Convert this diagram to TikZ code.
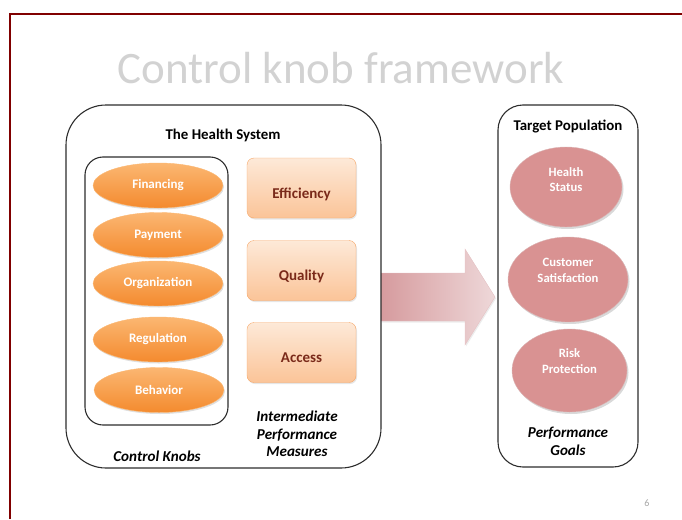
\documentclass[tikz,border=0pt]{standalone}
\usepackage{fontspec}
\setmainfont{Carlito}
\usetikzlibrary{calc, positioning, shapes.geometric, shadows}
\definecolor{framered}{RGB}{128,0,0}
\definecolor{titlegray}{RGB}{210,210,210}
\definecolor{boxline}{RGB}{45,45,45}
\definecolor{knoblight}{RGB}{251,183,114}
\definecolor{knobdark}{RGB}{244,138,46}
\definecolor{measurelight}{RGB}{253,233,216}
\definecolor{measuredark}{RGB}{251,196,152}
\definecolor{measureline}{RGB}{246,166,103}
\definecolor{measuretext}{RGB}{122,42,26}
\definecolor{goalpink}{RGB}{217,146,146}
\definecolor{arrowdark}{RGB}{214,155,158}
\definecolor{arrowlight}{RGB}{238,216,217}

\begin{document}
\begin{tikzpicture}[x=1pt, y=-1pt,
    sysbox/.style={draw=boxline, line width=1.1pt, rectangle},
    knob/.style={ellipse, minimum width=130pt, minimum height=45pt, inner sep=0pt,
        top color=knoblight, bottom color=knobdark, draw=knoblight,
        drop shadow={opacity=0.25, shadow xshift=1pt, shadow yshift=-1.5pt},
        text=white, font=\fontsize{13}{15}\selectfont\bfseries},
    measure/.style={rectangle, rounded corners=7pt, minimum width=109pt, minimum height=60pt,
        inner sep=0pt, top color=measurelight, bottom color=measuredark, draw=measureline,
        drop shadow={opacity=0.2, shadow xshift=1pt, shadow yshift=-1.5pt},
        text=measuretext, font=\fontsize{15}{17}\selectfont\bfseries,
        text height=23pt, text depth=3pt},
    goal/.style={ellipse, inner sep=0pt, fill=goalpink, draw=goalpink!90!black!60,
        drop shadow={opacity=0.3, shadow xshift=1.5pt, shadow yshift=-2pt}},
    goaltext/.style={text=white, align=center, font=\fontsize{12.7}{15.5}\selectfont\bfseries},
    heading/.style={font=\fontsize{14.9}{17}\selectfont\bfseries},
    caption/.style={align=center, font=\fontsize{15.1}{17.5}\selectfont\bfseries\itshape}]
    \useasboundingbox (0,0) rectangle (682,519);

    % Slide frame and title
    \draw[framered, line width=2pt] (10,519) -- (10,14) -- (682,14);
    \node[text=titlegray, font=\fontsize{45}{52}\selectfont] (title) at (341,68) {Control knob framework};

    % Arrow from the health system to the population
    \coordinate (arrowtail) at (381,297);
    \coordinate (arrowtip) at (495,297);
    \draw[draw=arrowdark!60!white, left color=arrowdark, right color=arrowlight,
          drop shadow={opacity=0.15, shadow xshift=1pt, shadow yshift=-1.5pt}]
        ($(arrowtail)+(0,-24)$) -- ($(arrowtip)+(-30,-24)$) -- ($(arrowtip)+(-30,-48)$)
        -- (arrowtip) -- ($(arrowtip)+(-30,48)$) -- ($(arrowtip)+(-30,24)$)
        -- ($(arrowtail)+(0,24)$) -- cycle;

    % The health system
    \node[sysbox, rounded corners=40pt, minimum width=315pt, minimum height=363pt] (hsys) at (223.5,286.5) {};
    \node[heading] (hsystitle) at (223,135) {The Health System};
    \node[sysbox, rounded corners=18pt, minimum width=143pt, minimum height=268pt] (knobbox) at (156.5,291) {};

    % Control knobs
    \node[knob] (financing) at (158,185.5) {Financing};
    \node[knob] (payment) at (158,235) {Payment};
    \node[knob] (organization) at (158,283.5) {Organization};
    \node[knob] (regulation) at (158,339.5) {Regulation};
    \node[knob] (behavior) at (159,390) {Behavior};
    \node[caption] (knobcap) at (157,456) {Control Knobs};

    % Intermediate measures
    \node[measure] (efficiency) at (301.5,188) {Efficiency};
    \node[measure] (quality) at (301.5,270.5) {Quality};
    \node[measure] (access) at (301.5,352.5) {Access};
    \node[caption] (measurecap) at (297,434) {Intermediate\\Performance\\Measures};

    % Target population
    \node[sysbox, rounded corners=25pt, minimum width=140pt, minimum height=362pt] (target) at (568,286) {};
    \node[heading] (targettitle) at (568,127) {Target Population};
    \node[goal, minimum width=112pt, minimum height=80pt] (health) at (566,187) {};
    \node[goaltext] (healthtext) at ([yshift=7.5pt]health.center) {Health\\Status};
    \node[goal, minimum width=120pt, minimum height=85pt] (satisfaction) at (568,279.5) {};
    \node[goaltext] (satisfactiontext) at ([yshift=9pt]satisfaction.center) {Customer\\Satisfaction};
    \node[goal, minimum width=115pt, minimum height=83pt] (risk) at (569.5,370.5) {};
    \node[goaltext] (risktext) at ([yshift=9.5pt]risk.center) {Risk\\Protection};
    \node[caption] (goalcap) at (568,441.5) {Performance\\Goals};

    % Slide number
    \node[text=gray!70, font=\fontsize{10}{12}\selectfont] (pagenum) at (647,503) {6};
\end{tikzpicture}
\end{document}
